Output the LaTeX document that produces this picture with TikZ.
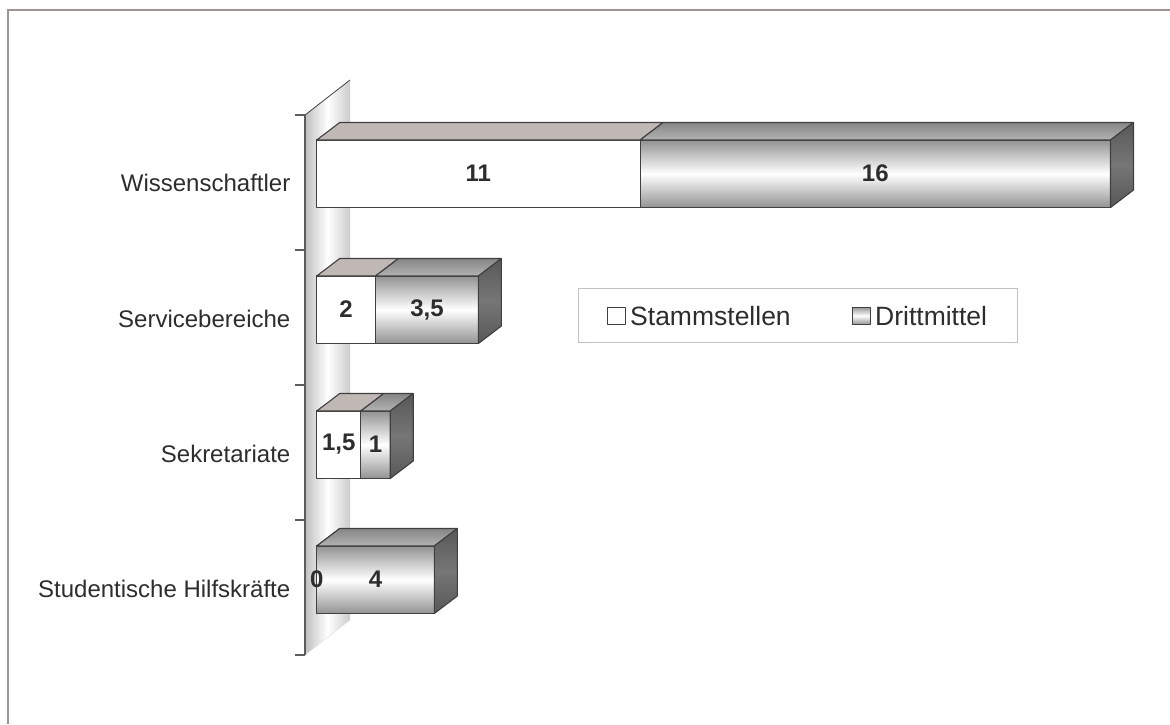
\documentclass[tikz,border=0pt]{standalone}
\usepackage{fontspec}
\setmainfont{Liberation Sans}
\definecolor{framegrey}{RGB}{160,148,144}
\definecolor{edgegrey}{RGB}{64,64,64}
\definecolor{topstamm}{RGB}{192,184,180}
\definecolor{sidegrey}{RGB}{88,88,88}
\definecolor{sidelight}{RGB}{118,118,118}
\definecolor{textgrey}{RGB}{45,45,45}
\definecolor{legendgrey}{RGB}{200,192,188}
\begin{document}
\begin{tikzpicture}[x=1pt,y=-1pt,
	face/.style={draw=edgegrey,line width=1.1pt,line join=round},
	stammfront/.style={face,fill=white},
	stammtop/.style={face,fill=topstamm},
	drittfront/.style={face,top color=gray!85,bottom color=gray!85,middle color=white},
	dritttop/.style={face,top color=gray!95,bottom color=gray!60},
	drittside/.style={face,top color=sidegrey,bottom color=sidegrey,middle color=sidelight},
	catlabel/.style={font=\fontsize{24}{29}\selectfont,text=textgrey,anchor=east,inner sep=0pt},
	vallabel/.style={font=\bfseries\fontsize{24}{29}\selectfont,text=textgrey,inner sep=0pt},
	leglabel/.style={font=\fontsize{26.5}{31}\selectfont,text=textgrey,anchor=west,inner sep=0pt}]
	\useasboundingbox (0,0) rectangle (1170,724);
	\draw[framegrey,line width=1.5pt] (8,724) -- (8,10) -- (1170,10);
	% wall
	\shade[left color=gray!50,right color=gray!40,middle color=white] (305,115) -- (350,80) -- (350,620) -- (305,655) -- cycle;
	\draw[gray!25] (305,655) -- (350,620);
	\draw[edgegrey,line width=0.8pt] (305,115) -- (350,80);
	\draw[edgegrey!85,line width=1.2pt] (305,115) -- (305,655);
	\foreach \y in {115,250,385,520,655}
		\draw[edgegrey!85,line width=1.2pt] (295,\y) -- (305,\y);
	% bars
	\foreach \cat/\top/\st/\dr/\stl/\drl [count=\i] in {Wissenschaftler/140/11/16/11/16,
			Servicebereiche/276/2/3.5/2/{3,5},
			Sekretariate/411/1.5/1/{1,5}/1,
			Studentische Hilfskräfte/546/0/4/0/4}{
		\pgfmathsetmacro\xa{316.7+29.4*\st}
		\pgfmathsetmacro\xb{\xa+29.4*\dr}
		\pgfmathsetmacro\bot{\top+67.5}
		\pgfmathsetmacro\back{\top-17.5}
		\node[catlabel] (cat\i) at (290.5,\top+42.5) {\cat};
		\draw[stammfront] (316.7,\top) rectangle (\xa,\bot);
		\draw[stammtop] (316.7,\top) -- (339.7,\back) -- (\xa+23,\back) -- (\xa,\top) -- cycle;
		\draw[drittfront] (\xa,\top) rectangle (\xb,\bot);
		\draw[dritttop] (\xa,\top) -- (\xa+23,\back) -- (\xb+23,\back) -- (\xb,\top) -- cycle;
		\draw[drittside] (\xb,\top) -- (\xb+23,\back) -- (\xb+23,\bot-17.5) -- (\xb,\bot) -- cycle;
		\node[vallabel] (st\i) at ({(316.7+\xa)/2},\top+33.5) {\stl};
		\node[vallabel] (dr\i) at ({(\xa+\xb)/2},\top+33.5) {\drl};
	}
	% legend
	\draw[legendgrey] (578,288) rectangle (1017,342);
	\draw[face,line width=0.8pt,fill=white] (607.5,307) rectangle (625,324.5);
	\node[leglabel] (legstamm) at (630,316) {Stammstellen};
	\draw[face,line width=0.8pt,top color=gray!85,bottom color=gray!85,middle color=white] (852.5,307) rectangle (870,324.5);
	\node[leglabel] (legdritt) at (875,316) {Drittmittel};
\end{tikzpicture}
\end{document}
